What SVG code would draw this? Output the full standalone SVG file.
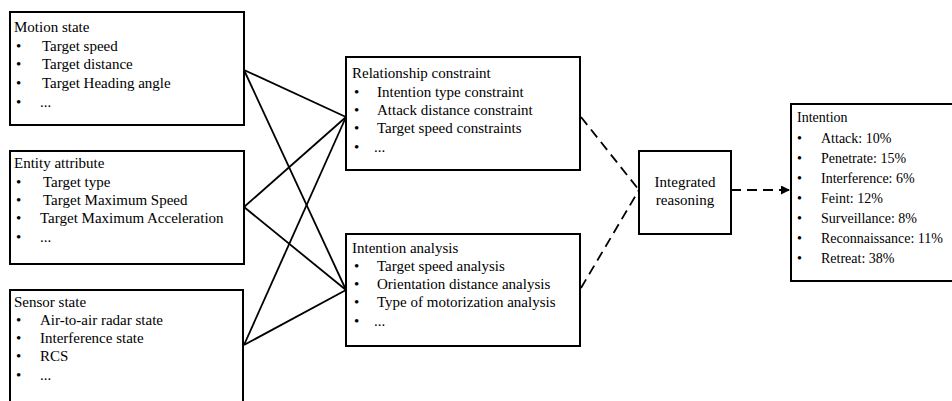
<svg xmlns="http://www.w3.org/2000/svg" width="952" height="401" viewBox="0 0 952 401" font-family="Times New Roman, serif">
<defs>
<marker id="ah" viewBox="0 0 10 10" refX="10" refY="5" markerWidth="5" markerHeight="5" orient="auto" markerUnits="strokeWidth">
<path d="M0,0 L10,5 L0,10 z" fill="#000"/>
</marker>
</defs>
<rect width="952" height="401" fill="#fff"/>
<g id="connectors" stroke="#000" stroke-width="1.8" fill="none">
<line x1="244" y1="70" x2="346" y2="117"/>
<line x1="244" y1="70" x2="346" y2="290"/>
<line x1="244" y1="207" x2="346" y2="117"/>
<line x1="244" y1="207" x2="346" y2="290"/>
<line x1="244" y1="345" x2="346" y2="117"/>
<line x1="244" y1="345" x2="346" y2="290"/>
<line x1="581" y1="117" x2="639" y2="190" stroke-dasharray="10 6"/>
<line x1="581" y1="288" x2="639" y2="190" stroke-dasharray="10 6"/>
<line x1="731" y1="190" x2="790" y2="190" stroke-dasharray="10 6" marker-end="url(#ah)"/>
</g>
<g id="motion">
<rect x="10" y="12" width="234" height="113" fill="#fff" stroke="#000" stroke-width="2"/>
<text x="14" y="32" style="font-family:'Times New Roman',serif;font-size:15px">Motion state</text>
<text x="16" y="51" style="font-family:'Times New Roman',serif;font-size:15px">•</text><text x="42" y="51" style="font-family:'Times New Roman',serif;font-size:15px">Target speed</text>
<text x="16" y="69" style="font-family:'Times New Roman',serif;font-size:15px">•</text><text x="42" y="69" style="font-family:'Times New Roman',serif;font-size:15px">Target distance</text>
<text x="16" y="88" style="font-family:'Times New Roman',serif;font-size:15px">•</text><text x="42" y="88" style="font-family:'Times New Roman',serif;font-size:15px">Target Heading angle</text>
<text x="16" y="107" style="font-family:'Times New Roman',serif;font-size:15px">•</text><text x="40" y="107" style="font-family:'Times New Roman',serif;font-size:15px">...</text>
</g>
<g id="entity">
<rect x="10" y="151" width="234" height="113" fill="#fff" stroke="#000" stroke-width="2"/>
<text x="14" y="168" style="font-family:'Times New Roman',serif;font-size:15px">Entity attribute</text>
<text x="16" y="187" style="font-family:'Times New Roman',serif;font-size:15px">•</text><text x="43" y="187" style="font-family:'Times New Roman',serif;font-size:15px">Target type</text>
<text x="16" y="205" style="font-family:'Times New Roman',serif;font-size:15px">•</text><text x="43" y="205" style="font-family:'Times New Roman',serif;font-size:15px">Target Maximum Speed</text>
<text x="16" y="223" style="font-family:'Times New Roman',serif;font-size:15px">•</text><text x="40" y="223" style="font-family:'Times New Roman',serif;font-size:15px">Target Maximum Acceleration</text>
<text x="16" y="242" style="font-family:'Times New Roman',serif;font-size:15px">•</text><text x="40" y="242" style="font-family:'Times New Roman',serif;font-size:15px">...</text>
</g>
<g id="sensor">
<rect x="10" y="290" width="233" height="120" fill="#fff" stroke="#000" stroke-width="2"/>
<text x="14" y="307" style="font-family:'Times New Roman',serif;font-size:15px">Sensor state</text>
<text x="16" y="325" style="font-family:'Times New Roman',serif;font-size:15px">•</text><text x="40" y="325" style="font-family:'Times New Roman',serif;font-size:15px">Air-to-air radar state</text>
<text x="16" y="343" style="font-family:'Times New Roman',serif;font-size:15px">•</text><text x="40" y="343" style="font-family:'Times New Roman',serif;font-size:15px">Interference state</text>
<text x="16" y="361" style="font-family:'Times New Roman',serif;font-size:15px">•</text><text x="40" y="361" style="font-family:'Times New Roman',serif;font-size:15px">RCS</text>
<text x="16" y="380" style="font-family:'Times New Roman',serif;font-size:15px">•</text><text x="40" y="380" style="font-family:'Times New Roman',serif;font-size:15px">...</text>
</g>
<g id="relationship">
<rect x="346" y="57" width="234" height="113" fill="#fff" stroke="#000" stroke-width="2"/>
<text x="352" y="78" style="font-family:'Times New Roman',serif;font-size:15px">Relationship constraint</text>
<text x="354" y="97" style="font-family:'Times New Roman',serif;font-size:15px">•</text><text x="377" y="97" style="font-family:'Times New Roman',serif;font-size:15px">Intention type constraint</text>
<text x="354" y="115" style="font-family:'Times New Roman',serif;font-size:15px">•</text><text x="377" y="115" style="font-family:'Times New Roman',serif;font-size:15px">Attack distance constraint</text>
<text x="354" y="133" style="font-family:'Times New Roman',serif;font-size:15px">•</text><text x="377" y="133" style="font-family:'Times New Roman',serif;font-size:15px">Target speed constraints</text>
<text x="354" y="152" style="font-family:'Times New Roman',serif;font-size:15px">•</text><text x="374" y="152" style="font-family:'Times New Roman',serif;font-size:15px">...</text>
</g>
<g id="analysis">
<rect x="346" y="234" width="234" height="112" fill="#fff" stroke="#000" stroke-width="2"/>
<text x="352" y="253" style="font-family:'Times New Roman',serif;font-size:15px">Intention analysis</text>
<text x="354" y="271" style="font-family:'Times New Roman',serif;font-size:15px">•</text><text x="377" y="271" style="font-family:'Times New Roman',serif;font-size:15px">Target speed analysis</text>
<text x="354" y="289" style="font-family:'Times New Roman',serif;font-size:15px">•</text><text x="377" y="289" style="font-family:'Times New Roman',serif;font-size:15px">Orientation distance analysis</text>
<text x="354" y="307" style="font-family:'Times New Roman',serif;font-size:15px">•</text><text x="377" y="307" style="font-family:'Times New Roman',serif;font-size:15px">Type of motorization analysis</text>
<text x="354" y="326" style="font-family:'Times New Roman',serif;font-size:15px">•</text><text x="374" y="326" style="font-family:'Times New Roman',serif;font-size:15px">...</text>
</g>
<g id="reasoning">
<rect x="639" y="151" width="92" height="83" fill="#fff" stroke="#000" stroke-width="2"/>
<text x="685" y="187" text-anchor="middle" style="font-family:'Times New Roman',serif;font-size:15px">Integrated</text>
<text x="685" y="205" text-anchor="middle" style="font-family:'Times New Roman',serif;font-size:15px">reasoning</text>
</g>
<g id="intention">
<rect x="791" y="104" width="170" height="177" fill="#fff" stroke="#000" stroke-width="2"/>
<text x="797" y="122" style="font-family:'Times New Roman',serif;font-size:14px">Intention</text>
<text x="797" y="143" style="font-family:'Times New Roman',serif;font-size:14px">•</text><text x="821" y="143" style="font-family:'Times New Roman',serif;font-size:14px">Attack: 10%</text>
<text x="797" y="163" style="font-family:'Times New Roman',serif;font-size:14px">•</text><text x="821" y="163" style="font-family:'Times New Roman',serif;font-size:14px">Penetrate: 15%</text>
<text x="797" y="183" style="font-family:'Times New Roman',serif;font-size:14px">•</text><text x="821" y="183" style="font-family:'Times New Roman',serif;font-size:14px">Interference: 6%</text>
<text x="797" y="203" style="font-family:'Times New Roman',serif;font-size:14px">•</text><text x="821" y="203" style="font-family:'Times New Roman',serif;font-size:14px">Feint: 12%</text>
<text x="797" y="223" style="font-family:'Times New Roman',serif;font-size:14px">•</text><text x="821" y="223" style="font-family:'Times New Roman',serif;font-size:14px">Surveillance: 8%</text>
<text x="797" y="243" style="font-family:'Times New Roman',serif;font-size:14px">•</text><text x="821" y="243" style="font-family:'Times New Roman',serif;font-size:14px">Reconnaissance: 11%</text>
<text x="797" y="263" style="font-family:'Times New Roman',serif;font-size:14px">•</text><text x="821" y="263" style="font-family:'Times New Roman',serif;font-size:14px">Retreat: 38%</text>
</g>
</svg>
